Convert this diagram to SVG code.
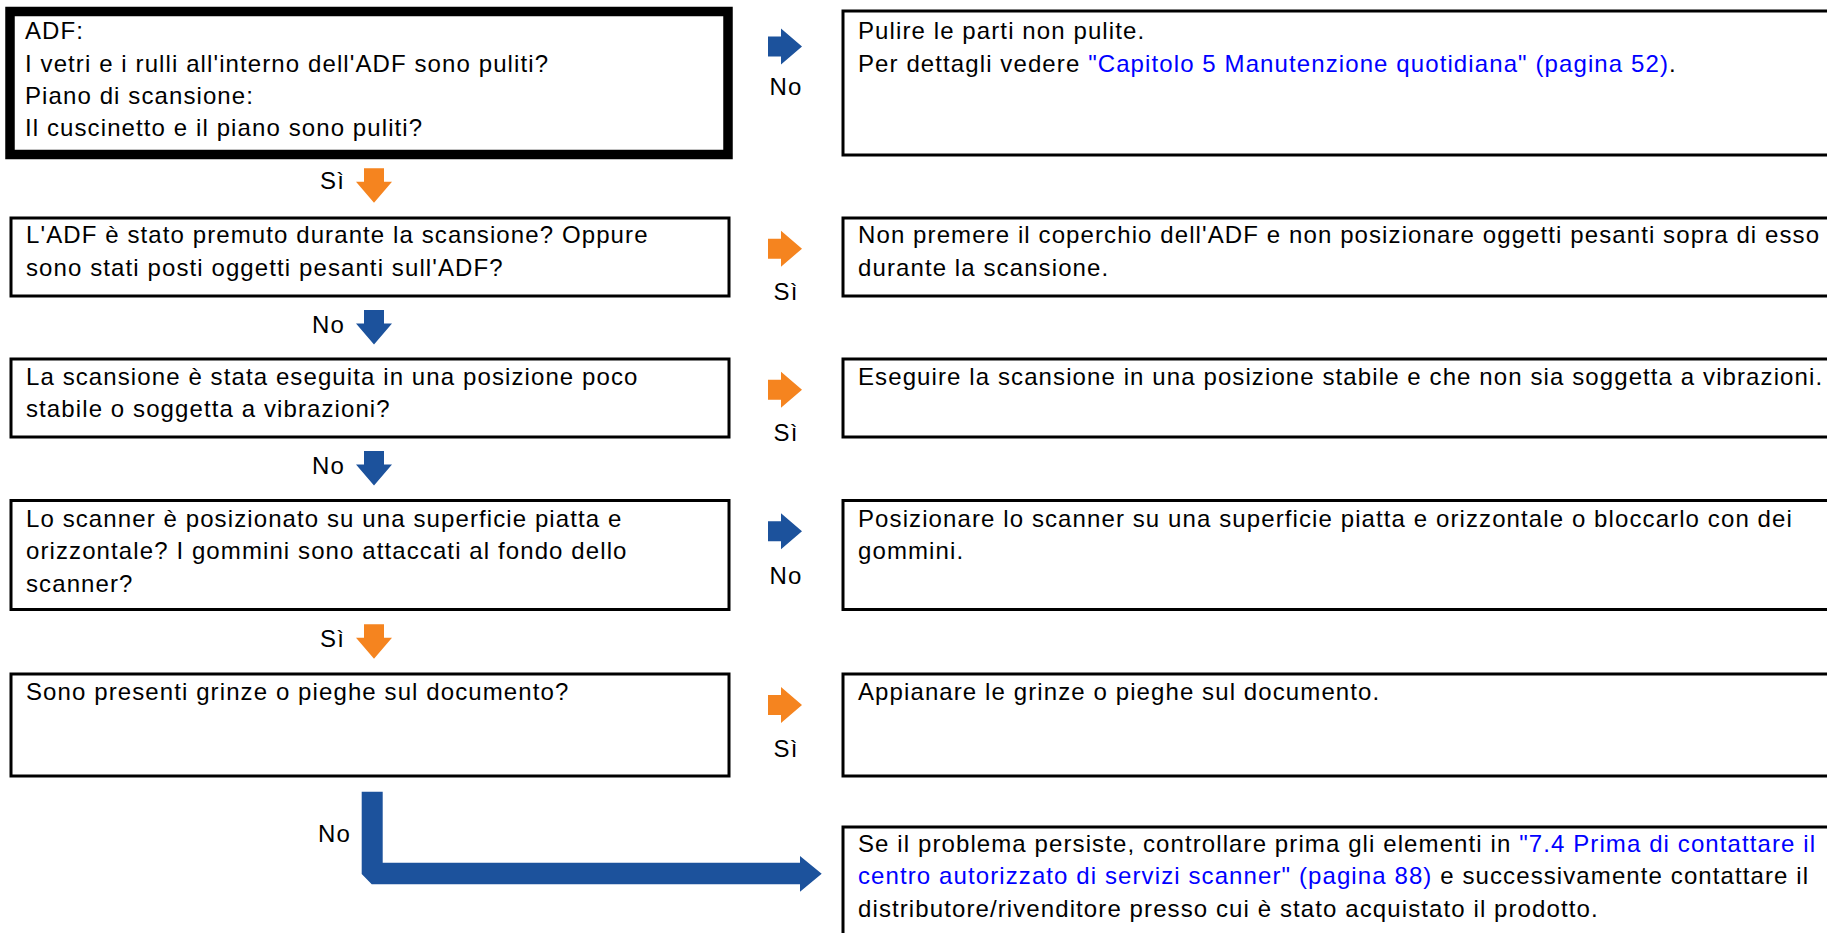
<svg xmlns="http://www.w3.org/2000/svg" xmlns:xlink="http://www.w3.org/1999/xlink" width="1827" height="933" viewBox="0 0 1827 933">
<style>
text{font-family:"Liberation Sans",Arial,sans-serif;font-size:24px;letter-spacing:1.1px;fill:#000}
.lnk{fill:#0000ff}
.box{fill:#fff;stroke:#000;stroke-width:3}
.thick{fill:#fff;stroke:#000;stroke-width:9.5}
.blue{fill:#1c529c}
.orange{fill:#f5841f}
.lbl{text-anchor:end}
.lblc{text-anchor:middle}
</style>
<defs>
<path id="dArrow" d="M-10,0 H10 V13.5 H18 L0,34.5 L-18,13.5 H-10 Z"/>
<path id="rArrow" d="M0,-10 H13 V-18 L34,0 L13,18 V10 H0 Z"/>
</defs>
<rect width="1827" height="933" fill="#fff"/>

<g id="q1">
<rect class="thick" x="10" y="11.5" width="718" height="143"/>
<text x="25" y="39.3">ADF:</text>
<text x="25" y="71.7">I vetri e i rulli all'interno dell'ADF sono puliti?</text>
<text x="25" y="104">Piano di scansione:</text>
<text x="25" y="136.4">Il cuscinetto e il piano sono puliti?</text>
</g>
<g id="a1">
<rect class="box" x="843" y="11" width="1100" height="144"/>
<text x="858" y="39.3">Pulire le parti non pulite.</text>
<text x="858" y="71.7">Per dettagli vedere <tspan class="lnk">"Capitolo 5 Manutenzione quotidiana" (pagina 52)</tspan>.</text>
</g>

<g id="q2">
<rect class="box" x="11" y="218" width="718" height="78"/>
<text x="26" y="243.3">L'ADF è stato premuto durante la scansione? Oppure</text>
<text x="26" y="275.7">sono stati posti oggetti pesanti sull'ADF?</text>
</g>
<g id="a2">
<rect class="box" x="843" y="218" width="1100" height="78"/>
<text x="858" y="243.3">Non premere il coperchio dell'ADF e non posizionare oggetti pesanti sopra di esso</text>
<text x="858" y="275.7">durante la scansione.</text>
</g>

<g id="q3">
<rect class="box" x="11" y="359" width="718" height="78"/>
<text x="26" y="385">La scansione è stata eseguita in una posizione poco</text>
<text x="26" y="417.4">stabile o soggetta a vibrazioni?</text>
</g>
<g id="a3">
<rect class="box" x="843" y="359" width="1100" height="78"/>
<text x="858" y="385">Eseguire la scansione in una posizione stabile e che non sia soggetta a vibrazioni.</text>
</g>

<g id="q4">
<rect class="box" x="11" y="500.5" width="718" height="109"/>
<text x="26" y="526.7">Lo scanner è posizionato su una superficie piatta e</text>
<text x="26" y="559.1">orizzontale? I gommini sono attaccati al fondo dello</text>
<text x="26" y="591.5">scanner?</text>
</g>
<g id="a4">
<rect class="box" x="843" y="500.5" width="1100" height="109"/>
<text x="858" y="526.7">Posizionare lo scanner su una superficie piatta e orizzontale o bloccarlo con dei</text>
<text x="858" y="559.1">gommini.</text>
</g>

<g id="q5">
<rect class="box" x="11" y="674" width="718" height="102"/>
<text x="26" y="700">Sono presenti grinze o pieghe sul documento?</text>
</g>
<g id="a5">
<rect class="box" x="843" y="674" width="1100" height="102"/>
<text x="858" y="700">Appianare le grinze o pieghe sul documento.</text>
</g>

<g id="a6">
<rect class="box" x="843" y="827" width="1100" height="200"/>
<text x="858" y="852">Se il problema persiste, controllare prima gli elementi in <tspan class="lnk">"7.4 Prima di contattare il</tspan></text>
<text x="858" y="884.4"><tspan class="lnk">centro autorizzato di servizi scanner" (pagina 88)</tspan> e successivamente contattare il</text>
<text x="858" y="916.8">distributore/rivenditore presso cui è stato acquistato il prodotto.</text>
</g>

<g id="connectors">
<use xlink:href="#rArrow" href="#rArrow" class="blue" x="768" y="46.5"/>
<text class="lblc" x="786" y="95">No</text>
<use xlink:href="#rArrow" href="#rArrow" class="orange" x="768" y="248.7"/>
<text class="lblc" x="786" y="300">Sì</text>
<use xlink:href="#rArrow" href="#rArrow" class="orange" x="768" y="389.7"/>
<text class="lblc" x="786" y="440.7">Sì</text>
<use xlink:href="#rArrow" href="#rArrow" class="blue" x="768" y="531.3"/>
<text class="lblc" x="786" y="584">No</text>
<use xlink:href="#rArrow" href="#rArrow" class="orange" x="768" y="705"/>
<text class="lblc" x="786" y="756.7">Sì</text>

<use xlink:href="#dArrow" href="#dArrow" class="orange" x="374" y="168.3"/>
<text class="lbl" x="345" y="189.3">Sì</text>
<use xlink:href="#dArrow" href="#dArrow" class="blue" x="374" y="310"/>
<text class="lbl" x="345" y="333.3">No</text>
<use xlink:href="#dArrow" href="#dArrow" class="blue" x="374" y="451"/>
<text class="lbl" x="345" y="474.3">No</text>
<use xlink:href="#dArrow" href="#dArrow" class="orange" x="374" y="624.3"/>
<text class="lbl" x="345" y="646.7">Sì</text>

<path class="blue" d="M361.7,791.7 H382.7 V862.7 H800 V856 L821.7,873.7 L800,891.7 V884.3 H371.7 L361.7,874 Z"/>
<text class="lbl" x="351" y="842">No</text>
</g>
</svg>
